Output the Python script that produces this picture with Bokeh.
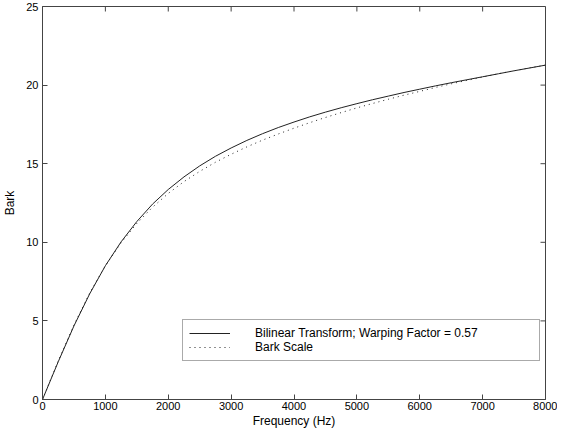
import math
from bokeh.plotting import figure
from bokeh.models import Range1d, FixedTicker, Legend, LegendItem
from bokeh.embed import file_html
from bokeh.resources import INLINE

freq = [0, 250, 500, 750, 1000, 1250, 1500, 1750, 2000, 2250, 2500, 2750, 3000,
        3250, 3500, 3750, 4000, 4250, 4500, 4750, 5000, 5250, 5500, 5750, 6000,
        6250, 6500, 6750, 7000, 7250, 7500, 7750, 8000]
bilinear = [0, 2.40, 4.68, 6.72, 8.51, 10.03, 11.32, 12.43, 13.36, 14.16, 14.86,
            15.47, 16.00, 16.48, 16.91, 17.30, 17.65, 17.98, 18.28, 18.56, 18.82,
            19.07, 19.30, 19.53, 19.74, 19.95, 20.15, 20.34, 20.53, 20.72, 20.91,
            21.09, 21.27]
bark = [0, 2.45, 4.74, 6.77, 8.51, 9.97, 11.20, 12.23, 13.11, 13.86, 14.51, 15.09,
        15.60, 16.07, 16.50, 16.89, 17.26, 17.61, 17.94, 18.25, 18.55, 18.83, 19.10,
        19.36, 19.60, 19.85, 20.08, 20.30, 20.51, 20.72, 20.91, 21.10, 21.27]
x_ticks = [0, 1000, 2000, 3000, 4000, 5000, 6000, 7000, 8000]
y_ticks = [0, 5, 10, 15, 20, 25]
labels = ["Bilinear Transform; Warping Factor = 0.57", "Bark Scale"]

FONT = "Liberation Sans"
AX = "#444444"
X_MAX, Y_MAX = 8000, 25

p = figure(width=557, height=430, output_backend="svg", toolbar_location=None,
           x_range=Range1d(0, X_MAX), y_range=Range1d(0, Y_MAX),
           min_border_top=6, min_border_right=12, min_border_left=0, min_border_bottom=0)
p.grid.visible = False
p.outline_line_color = AX
p.outline_line_width = 1

for ax in (p.xaxis[0], p.yaxis[0]):
    ax.major_tick_in = 5
    ax.major_tick_out = 0
    ax.minor_tick_in = 0
    ax.minor_tick_out = 0
    ax.axis_line_color = AX
    ax.major_tick_line_color = AX
    ax.major_label_text_font = FONT
    ax.major_label_text_font_size = "11px"
    ax.major_label_text_color = "black"
    ax.axis_label_text_font = FONT
    ax.axis_label_text_font_size = "12px"
    ax.axis_label_text_font_style = "normal"
    ax.axis_label_text_color = "black"

p.xaxis[0].ticker = FixedTicker(ticks=x_ticks)
p.yaxis[0].ticker = FixedTicker(ticks=y_ticks)
p.xaxis[0].axis_label = "Frequency (Hz)"
p.yaxis[0].axis_label = "Bark"
p.xaxis[0].major_label_standoff = 2
p.xaxis[0].axis_label_standoff = 1
p.yaxis[0].major_label_standoff = 4
p.yaxis[0].axis_label_standoff = 6

# inward ticks on the top and right edges of the box
p.ray(x=x_ticks, y=[Y_MAX] * len(x_ticks), length=5, length_units="screen",
      angle=-math.pi / 2, line_color=AX, line_width=1)
p.ray(x=[X_MAX] * len(y_ticks), y=y_ticks, length=5, length_units="screen",
      angle=math.pi, line_color=AX, line_width=1)

r1 = p.line(freq, bilinear, line_color="#222222", line_width=1)
r2 = p.line(freq, bark, line_color="#222222", line_width=1, line_dash="1 4")

legend = Legend(items=[LegendItem(label=labels[0], renderers=[r1]),
                       LegendItem(label=labels[1], renderers=[r2])],
                location=(140, 38), orientation="vertical",
                label_text_font=FONT, label_text_font_size="12px",
                label_text_color="black",
                glyph_width=41, glyph_height=14, label_height=14, label_width=278,
                label_standoff=25, padding=6, spacing=0, margin=0,
                border_line_color="#555555", border_line_width=1,
                background_fill_color="white", background_fill_alpha=1)
p.add_layout(legend, "center")

open("out.html", "w").write(file_html(p, INLINE))
